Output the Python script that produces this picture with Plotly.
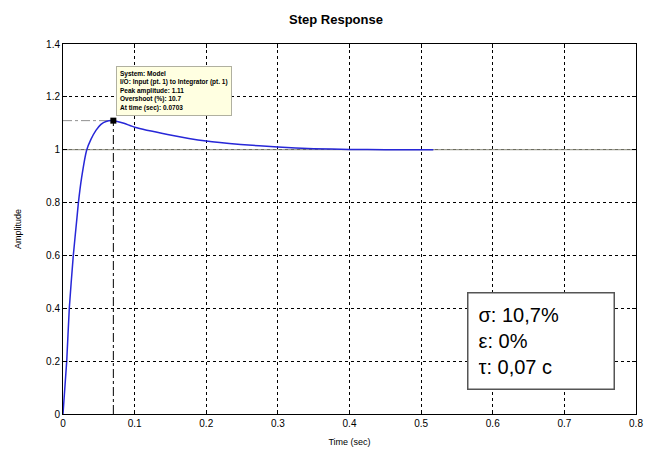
import plotly.graph_objects as go

# Data
time_s = [0, 0.0052, 0.0088, 0.0144, 0.0195, 0.0214, 0.026, 0.033, 0.039, 0.046, 0.053,
          0.060, 0.0703, 0.085, 0.1, 0.146, 0.2, 0.248, 0.3, 0.35, 0.4, 0.45, 0.517]
amplitude = [0, 0.2, 0.4, 0.6, 0.743, 0.797, 0.894, 0.998, 1.039, 1.073, 1.096,
             1.107, 1.11, 1.10, 1.085, 1.058, 1.033, 1.02, 1.01, 1.004, 1.001, 1.0, 1.0]
peak_t = 0.0703
peak_amp = 1.11
steady_value = 1.0
x_ticks = [0, 0.1, 0.2, 0.3, 0.4, 0.5, 0.6, 0.7, 0.8]
x_labels = ["0", "0.1", "0.2", "0.3", "0.4", "0.5", "0.6", "0.7", "0.8"]
y_ticks = [0, 0.2, 0.4, 0.6, 0.8, 1.0, 1.2, 1.4]
y_labels = ["0", "0.2", "0.4", "0.6", "0.8", "1", "1.2", "1.4"]
tooltip_lines = ["System: Model",
                 "I/O: Input (pt. 1) to Integrator (pt. 1)",
                 "Peak amplitude: 1.11",
                 "Overshoot (%): 10.7",
                 "At time (sec): 0.0703"]
info_lines = ["σ: 10,7%", "ε: 0%", "τ: 0,07 c"]

FONT = "Liberation Sans, Arial, sans-serif"

fig = go.Figure()

# steady-state line
fig.add_trace(go.Scatter(x=[x_ticks[0], x_ticks[-1]], y=[steady_value, steady_value],
                         mode="lines", line=dict(color="#8a8a7a", width=1),
                         hoverinfo="skip", showlegend=False))

# step response
fig.add_trace(go.Scatter(x=time_s, y=amplitude, mode="lines",
                         line=dict(color="#2727d8", width=1.5, shape="spline", smoothing=0.5),
                         showlegend=False))

# peak marker
fig.add_trace(go.Scatter(x=[peak_t], y=[peak_amp], mode="markers",
                         marker=dict(symbol="square", size=6, color="black"),
                         showlegend=False))

# guide lines to the peak
fig.add_shape(type="line", xref="x", yref="y", x0=peak_t, x1=peak_t, y0=0, y1=peak_amp,
              line=dict(color="black", width=1, dash="dashdot"), layer="below")
fig.add_shape(type="line", xref="x", yref="y", x0=0, x1=peak_t, y0=peak_amp, y1=peak_amp,
              line=dict(color="#909090", width=1, dash="dashdot"), layer="below")

# tooltip
fig.add_annotation(xref="paper", yref="paper", x=0.0923, y=0.9405,
                   xanchor="left", yanchor="top", align="left", showarrow=False,
                   text="<br>".join("<b>" + s + "</b>" for s in tooltip_lines),
                   font=dict(family=FONT, size=6.5, color="black"),
                   bgcolor="#ffffe1", bordercolor="#b0b0a0", borderwidth=1, borderpad=3)

# info box
fig.add_annotation(xref="paper", yref="paper", x=0.7056, y=0.3297,
                   xanchor="left", yanchor="top", align="left", showarrow=False,
                   text="<br>".join(info_lines),
                   font=dict(family=FONT, size=20, color="black"),
                   bgcolor="white", bordercolor="#555555", borderwidth=1.5,
                   borderpad=10, width=125, height=75)

fig.update_layout(
    width=656, height=453,
    margin=dict(l=55, r=28, t=36, b=47),
    paper_bgcolor="white", plot_bgcolor="white",
    title=dict(text="<b>Step Response</b>", x=0.5, xanchor="center", y=0.985, yanchor="top",
               font=dict(family=FONT, size=13, color="black")),
    font=dict(family=FONT, size=10, color="black"),
)

fig.update_xaxes(range=[0, 0.8], tickvals=x_ticks, ticktext=x_labels, automargin=False,
                 showgrid=True, gridcolor="black", griddash="dot", gridwidth=1,
                 showline=True, linecolor="black", linewidth=1, mirror="ticks",
                 ticks="inside", ticklen=4, tickcolor="black", zeroline=False,
                 title=dict(text="Time (sec)", font=dict(size=9), standoff=10))
fig.update_yaxes(range=[0, 1.4], tickvals=y_ticks, ticktext=y_labels, automargin=False,
                 showgrid=True, gridcolor="black", griddash="dot", gridwidth=1,
                 showline=True, linecolor="black", linewidth=1, mirror="ticks",
                 ticks="inside", ticklen=4, tickcolor="black", zeroline=False,
                 title=dict(text="Amplitude", font=dict(size=9), standoff=22))

fig.write_html("out.html")
